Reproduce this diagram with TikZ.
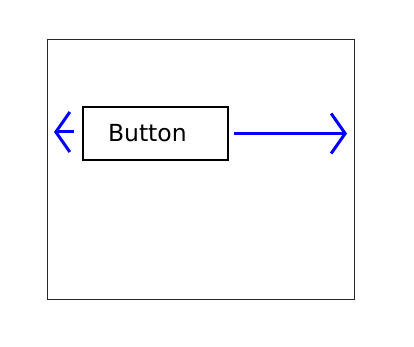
\documentclass[tikz,border=0pt]{standalone}
\usepackage{fontspec}
\setmainfont{DejaVu Sans}
\usetikzlibrary{arrows.meta,positioning}

\begin{document}
\begin{tikzpicture}[
  x=1pt, y=-1pt,
  frame/.style={
    draw=black!85,
    line width=0.9pt,
    minimum width=307pt,
    minimum height=260pt,
    inner sep=0pt
  },
  buttonbox/.style={
    draw,
    line width=2.6pt,
    text width=95pt,
    inner xsep=25pt,
    minimum height=53pt,
    align=left,
    font=\fontsize{23.5}{28}\selectfont
  },
  flow/.style={-{Straight Barb[length=14pt,width=40pt]},line width=3pt,blue}
]
  \useasboundingbox (0,0) rectangle (414,347);
  \node[frame] (panel) at (200.5,169) {};
  \node[buttonbox] (button) at (155.5,133.5) {Button};
  \coordinate (leftTip) at (54,132);
  \coordinate (rightTip) at (347,133.5);
  \draw[flow,shorten <=8pt] (button.west |- leftTip) -- (leftTip);
  \draw[flow,shorten <=5pt] (button.east |- rightTip) -- (rightTip);
\end{tikzpicture}
\end{document}
